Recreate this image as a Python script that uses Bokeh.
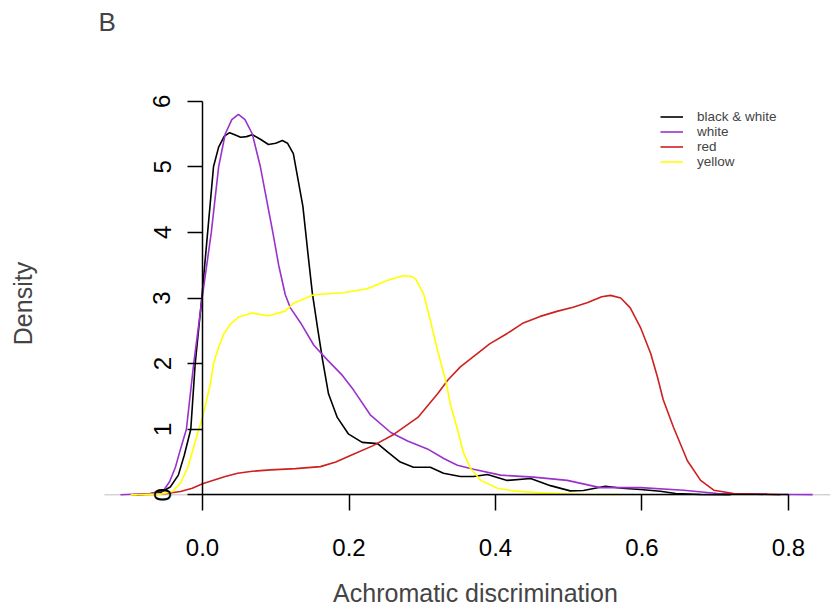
from bokeh.plotting import figure
from bokeh.models import (FixedTicker, Legend, LegendItem, Label,
                          PrintfTickFormatter, Range1d)
from bokeh.embed import file_html
from bokeh.resources import INLINE
import math

# ---- data ----
bw_x = [-0.090, -0.078, -0.057, -0.044, -0.033, -0.025, -0.016, -0.010, -0.001, 0.007,
        0.015, 0.022, 0.030, 0.037, 0.044, 0.052, 0.060, 0.068, 0.079, 0.090,
        0.100, 0.109, 0.116, 0.124, 0.137, 0.145, 0.150, 0.157, 0.164, 0.172,
        0.184, 0.199, 0.218, 0.239, 0.253, 0.270, 0.288, 0.311, 0.329, 0.352,
        0.370, 0.389, 0.416, 0.448, 0.475, 0.502, 0.520, 0.550, 0.573, 0.598,
        0.625, 0.646, 0.680, 0.721]
bw_y = [0.0, 0.01, 0.04, 0.12, 0.30, 0.60, 1.0, 2.0, 3.0, 4.0,
        5.0, 5.3, 5.47, 5.52, 5.49, 5.45, 5.46, 5.49, 5.42, 5.34,
        5.36, 5.40, 5.36, 5.2, 4.4, 3.57, 3.07, 2.55, 2.05, 1.54,
        1.18, 0.93, 0.80, 0.78, 0.65, 0.50, 0.42, 0.42, 0.33, 0.28,
        0.28, 0.31, 0.22, 0.25, 0.14, 0.06, 0.065, 0.13, 0.10, 0.08,
        0.055, 0.02, 0.005, 0.0]

wh_x = [-0.112, -0.071, -0.053, -0.045, -0.037, -0.030, -0.022, -0.012, -0.001, 0.012,
        0.022, 0.031, 0.040, 0.049, 0.058, 0.068, 0.079, 0.096, 0.104, 0.113,
        0.120, 0.134, 0.152, 0.171, 0.191, 0.206, 0.229, 0.257, 0.280, 0.307,
        0.330, 0.348, 0.370, 0.407, 0.452, 0.498, 0.543, 0.598, 0.657, 0.703,
        0.771, 0.833]
wh_y = [0.0, 0.02, 0.07, 0.2, 0.42, 0.7, 1.0, 2.0, 2.96, 4.0,
        5.0, 5.5, 5.72, 5.8, 5.72, 5.5, 5.0, 4.0, 3.5, 3.05,
        2.85, 2.62, 2.28, 2.05, 1.82, 1.6, 1.22, 0.95, 0.82, 0.70,
        0.55, 0.45, 0.39, 0.30, 0.27, 0.22, 0.11, 0.11, 0.07, 0.02,
        0.01, 0.003]

rd_x = [-0.097, -0.057, -0.030, -0.014, 0.000, 0.031, 0.048, 0.068, 0.093, 0.127,
        0.161, 0.182, 0.202, 0.233, 0.261, 0.294, 0.321, 0.335, 0.352, 0.369,
        0.392, 0.416, 0.438, 0.461, 0.485, 0.506, 0.526, 0.545, 0.557, 0.571,
        0.584, 0.598, 0.612, 0.621, 0.629, 0.643, 0.662, 0.680, 0.698, 0.725,
        0.789]
rd_y = [0.0, 0.01, 0.05, 0.10, 0.17, 0.28, 0.33, 0.36, 0.38, 0.40,
        0.43, 0.50, 0.60, 0.75, 0.92, 1.18, 1.54, 1.75, 1.95, 2.1,
        2.3, 2.46, 2.62, 2.72, 2.80, 2.86, 2.93, 3.02, 3.04, 3.00,
        2.85, 2.55, 2.15, 1.80, 1.45, 1.03, 0.52, 0.22, 0.07, 0.02,
        0.0]

ye_x = [-0.098, -0.057, -0.041, -0.030, -0.020, -0.005, 0.000, 0.011, 0.015, 0.022,
        0.029, 0.038, 0.049, 0.068, 0.090, 0.113, 0.124, 0.152, 0.192, 0.225,
        0.253, 0.274, 0.285, 0.291, 0.302, 0.311, 0.321, 0.332, 0.339, 0.348,
        0.356, 0.366, 0.380, 0.403, 0.425, 0.461, 0.520, 0.571]
ye_y = [0.0, 0.01, 0.05, 0.18, 0.42, 1.0, 1.18, 1.7, 2.0, 2.25,
        2.45, 2.6, 2.71, 2.77, 2.73, 2.8, 2.92, 3.05, 3.08, 3.14,
        3.27, 3.34, 3.33, 3.29, 3.06, 2.66, 2.2, 1.74, 1.35, 1.0,
        0.65, 0.40, 0.22, 0.10, 0.06, 0.03, 0.005, 0.0]

# extent of the density plot's zero line
baseline_x = [-0.134, 0.857]
baseline_y = [0.0, 0.0]

series_names = ["black & white", "white", "red", "yellow"]
series_colors = ["#000000", "#9932CC", "#CD2020", "#FFFF00"]

x_ticks = [0.0, 0.2, 0.4, 0.6, 0.8]
y_ticks = [0, 1, 2, 3, 4, 5, 6]

FONT = "Liberation Sans"

p = figure(width=832, height=609, output_backend="svg", toolbar_location=None,
           x_range=Range1d(-0.2758, 0.8601), y_range=Range1d(-1.748, 7.535),
           min_border_left=0, min_border_right=0, min_border_top=0,
           min_border_bottom=0)
p.outline_line_color = None
p.xgrid.visible = False
p.ygrid.visible = False
p.background_fill_color = "white"
p.border_fill_color = "white"

# zero line of the density plot
p.line(baseline_x, baseline_y, line_color="#BEBEBE", line_width=1)

renderers = []
for xs, ys, col in [(bw_x, bw_y, series_colors[0]), (wh_x, wh_y, series_colors[1]),
                    (rd_x, rd_y, series_colors[2]), (ye_x, ye_y, series_colors[3])]:
    r = p.line(xs, ys, line_color=col, line_width=1.6)
    renderers.append(r)

# axes
xa = p.xaxis[0]
xa.fixed_location = 0
xa.bounds = (0, 0.8)
xa.ticker = FixedTicker(ticks=x_ticks)
xa.formatter = PrintfTickFormatter(format="%.1f")
xa.minor_tick_line_color = None
xa.major_tick_in = 0
xa.major_tick_out = 16
xa.axis_line_width = 1.5
xa.major_tick_line_width = 1.5
xa.major_label_standoff = 28
xa.major_label_text_font = FONT
xa.major_label_text_font_size = "24px"
xa.major_label_text_color = "black"

ya = p.yaxis[0]
ya.fixed_location = 0
ya.bounds = (0, 6)
ya.ticker = FixedTicker(ticks=y_ticks)
ya.minor_tick_line_color = None
ya.major_tick_in = 0
ya.major_tick_out = 15
ya.axis_line_width = 1.5
ya.major_tick_line_width = 1.5
ya.major_label_orientation = "vertical"
ya.major_label_standoff = 17
ya.major_label_text_font = FONT
ya.major_label_text_font_size = "24px"
ya.major_label_text_color = "black"

# axis titles (centred on the plot region as in the original)
p.add_layout(Label(x=475, y=17, x_units="screen", y_units="screen",
                   text="Achromatic discrimination", text_font=FONT,
                   text_font_size="25px", text_align="center", text_baseline="alphabetic"))
p.add_layout(Label(x=22, y=306, x_units="screen", y_units="screen",
                   text="Density", angle=math.pi / 2, text_font=FONT,
                   text_font_size="25px", text_align="center", text_baseline="alphabetic"))

# legend: one row per series, 15 px apart
legend_row_y = [485, 470, 455, 440]
for n, r, ly in zip(series_names, renderers, legend_row_y):
    lg = Legend(items=[LegendItem(label=n, renderers=[r])],
                location=(660, ly), border_line_color=None, background_fill_alpha=0,
                padding=0, margin=0, spacing=0, glyph_width=23, glyph_height=15,
                label_height=15, label_standoff=14, label_text_font=FONT,
                label_text_font_size="13.5px")
    p.add_layout(lg)

p.add_layout(Label(x=98, y=588, x_units="screen", y_units="screen", text="B",
                   text_font=FONT, text_font_size="26px", text_baseline="alphabetic"))

open("out.html", "w").write(file_html(p, INLINE))
